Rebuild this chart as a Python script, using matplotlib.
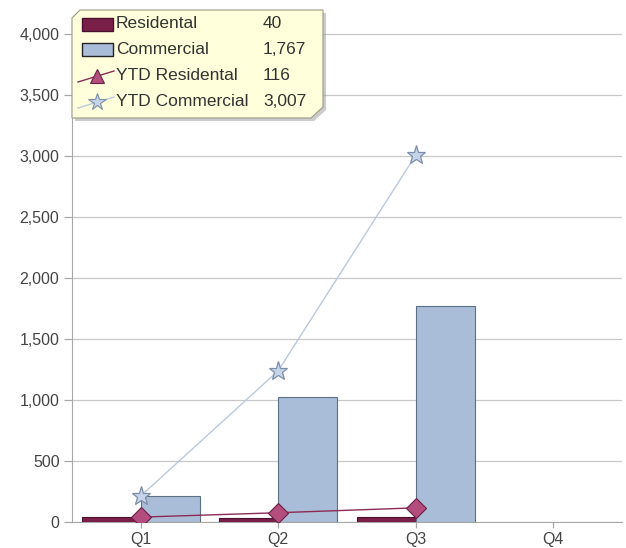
import numpy as np
import matplotlib.pyplot as plt
from matplotlib.patches import Polygon, Rectangle
from matplotlib.lines import Line2D
from matplotlib.ticker import FuncFormatter

plt.rcParams['font.family'] = ['Liberation Sans', 'DejaVu Sans']

quarters = ['Q1', 'Q2', 'Q3', 'Q4']
residential = [40, 36, 40]
commercial = [213, 1027, 1767]
ytd_residential = np.cumsum(residential)
ytd_commercial = np.cumsum(commercial)

res_face, res_edge = '#7a1f48', '#4a1030'
com_face, com_edge = '#aabdd8', '#5d6f82'
dia_face, dia_edge = '#b24d7e', '#6e1f45'
star_face, star_edge = '#c5d4e8', '#7d8fa8'
ytd_com_line = '#b9c9de'
ytd_res_line = '#8a2a55'

fig = plt.figure(figsize=(6.26, 5.48), dpi=100)
ax = fig.add_axes([72 / 626, 26 / 548, 550 / 626, 505 / 548])

x = np.arange(len(residential))
w = 0.43
ax.bar(x - w / 2, residential, width=w, color=res_face, edgecolor=res_edge, linewidth=0.8, zorder=3)
ax.bar(x + w / 2, commercial, width=w, color=com_face, edgecolor=com_edge, linewidth=0.8, zorder=3)
ax.plot(x, ytd_commercial, color=ytd_com_line, linewidth=1.0, marker='*', markersize=14,
        markerfacecolor=star_face, markeredgecolor=star_edge, markeredgewidth=0.9, zorder=4)
ax.plot(x, ytd_residential, color=ytd_res_line, linewidth=1.0, marker='D', markersize=10,
        markerfacecolor=dia_face, markeredgecolor=dia_edge, markeredgewidth=0.8, zorder=5)

ax.set_xlim(-0.5, 3.5)
ax.set_ylim(0, 4139)
ax.set_xticks(range(4))
ax.set_xticklabels(quarters)
ax.set_yticks(np.arange(0, 4001, 500))
ax.yaxis.set_major_formatter(FuncFormatter(lambda v, p: f'{int(v):,}'))
ax.grid(axis='y', color='#c8c8c8', linewidth=0.9, zorder=0)
for s in ['top', 'right']:
    ax.spines[s].set_visible(False)
for s in ['left', 'bottom']:
    ax.spines[s].set_color('#a8a8a8')
ax.tick_params(axis='both', colors='#a8a8a8', labelcolor='#444444', labelsize=11.5, length=6, width=0.9)
ax.tick_params(axis='x', length=4, pad=3)
ax.tick_params(axis='y', pad=3)

# legend box with clipped corners, drawn in pixel coordinates
H = 548
def px(xp, yp):
    return (xp / 626, (H - yp) / H)

outline = [(72, 18), (80, 10), (323, 10), (323, 107), (311, 118), (72, 118)]
shadow = Polygon([px(x0 + 3, y0 + 3) for x0, y0 in outline],
                 closed=True, transform=fig.transFigure, facecolor='#9a9a9a', alpha=0.5,
                 edgecolor='none', zorder=9)
box = Polygon([px(x0, y0) for x0, y0 in outline],
              closed=True, transform=fig.transFigure, facecolor='#ffffdc',
              edgecolor='#9a9a8a', linewidth=0.8, zorder=10)
fig.add_artist(shadow)
fig.add_artist(box)

rows = [24, 49, 75, 101]
names = ['Residental', 'Commercial', 'YTD Residental', 'YTD Commercial']
values = [residential[-1], commercial[-1], ytd_residential[-1], ytd_commercial[-1]]

for yr, (fc, ec) in zip(rows[:2], [(res_face, res_edge), (com_face, '#222222')]):
    x0, y0 = px(82, yr + 7)
    fig.add_artist(Rectangle((x0, y0), 31 / 626, 13 / H, transform=fig.transFigure,
                             facecolor=fc, edgecolor=ec, linewidth=1.0, zorder=11))

for yr, m, ms, lc, mf, me in [(rows[2], '^', 10, ytd_res_line, dia_face, dia_edge),
                              (rows[3], '*', 13, ytd_com_line, star_face, star_edge)]:
    (xa, ya), (xb, yb) = px(78, yr + 7), px(114, yr - 4)
    fig.add_artist(Line2D([xa, xb], [ya, yb], transform=fig.transFigure, color=lc,
                          linewidth=1.0, zorder=11))
    xm, ym = px(97, yr + 1)
    fig.add_artist(Line2D([xm], [ym], transform=fig.transFigure, marker=m, markersize=ms,
                          markerfacecolor=mf, markeredgecolor=me, markeredgewidth=0.8,
                          linestyle='none', zorder=12))

for yr, name, val in zip(rows, names, values):
    fig.text(*px(116, yr), name, fontsize=12.5, color='#333333', va='center', zorder=13)
    fig.text(*px(263, yr), f'{val:,}', fontsize=12.5, color='#333333', va='center', zorder=13)

fig.savefig('out.png', dpi=100)
